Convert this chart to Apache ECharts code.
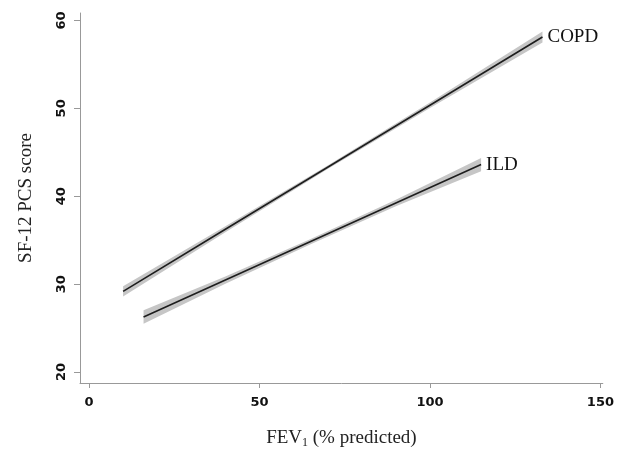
<!DOCTYPE html>
<html>
<head>
<meta charset="utf-8">
<script src="https://cdn.jsdelivr.net/npm/echarts@6/dist/echarts.min.js"></script>
<style>
html,body{margin:0;padding:0;background:#fff;}
#c{width:617px;height:455px;}
</style>
</head>
<body>
<div id="c"></div>
<script>
// ---- data ----
var xTicks = [0, 50, 100, 150];
var yTicks = [20, 30, 40, 50, 60];

var copdX   = [10, 40, 70, 100, 133];
var copdFit = [29.18, 36.24, 43.3, 50.36, 58.12];
var copdLo  = [28.6, 35.9, 43.1, 50.05, 57.5];
var copdHi  = [29.76, 36.58, 43.5, 50.67, 58.74];

var ildX    = [16, 40, 65, 90, 115];
var ildFit  = [26.26, 30.46, 34.84, 39.22, 43.6];
var ildLo   = [25.5, 30.05, 34.55, 38.85, 42.85];
var ildHi   = [27.02, 30.87, 35.13, 39.59, 44.35];

var seriesNames = ['COPD', 'ILD'];

function pairs(xs, ys){ return xs.map(function(x,i){ return [x, ys[i]]; }); }
function bandRows(xs, lo, hi){ return xs.map(function(x,i){ return [x, lo[i], hi[i]]; }); }

function bandSeries(xs, lo, hi){
  return {
    type: 'custom',
    silent: true,
    z: 1,
    data: bandRows(xs, lo, hi),
    encode: { x: 0, y: [1, 2] },
    renderItem: function(params, api){
      if (params.dataIndex !== 0) return null;
      var pts = [];
      for (var i = 0; i < xs.length; i++) pts.push(api.coord([xs[i], hi[i]]));
      for (var j = xs.length - 1; j >= 0; j--) pts.push(api.coord([xs[j], lo[j]]));
      return { type: 'polygon', shape: { points: pts }, style: { fill: '#c6c6c6' } };
    }
  };
}

var serif = '"Liberation Serif", "Times New Roman", serif';
var sansB = '"DejaVu Sans", "Liberation Sans", Arial, sans-serif';

function lineSeries(name, xs, ys){
  return {
    name: name,
    type: 'line',
    z: 3,
    data: pairs(xs, ys),
    symbol: 'none',
    silent: true,
    lineStyle: { color: '#1e1e1e', width: 1.6 },
    endLabel: {
      show: true,
      formatter: name,
      fontFamily: serif,
      fontSize: 19,
      color: '#111',
      distance: 5
    }
  };
}

var chart = echarts.init(document.getElementById('c'));
chart.setOption({
  animation: false,
  backgroundColor: '#fff',
  grid: { left: 80, right: 13, top: 13, bottom: 72, containLabel: false },
  xAxis: {
    type: 'value',
    min: -2.64, max: 150.7,
    name: '{a|FEV}{s|1}{a| (% predicted)}',
    nameLocation: 'middle',
    nameGap: 45,
    nameTextStyle: {
      rich: {
        a: { fontFamily: serif, fontSize: 19, color: '#222' },
        s: { fontFamily: serif, fontSize: 12, color: '#222', padding: [9, 0, 0, 0] }
      }
    },
    axisLine: { show: true, onZero: false, lineStyle: { color: '#999', width: 1 } },
    axisTick: { show: true, customValues: xTicks, length: 5, lineStyle: { color: '#999' } },
    axisLabel: {
      customValues: xTicks,
      margin: 13,
      fontFamily: sansB,
      fontWeight: 'bold', fontSize: 13, color: '#111'
    },
    splitLine: { show: false }
  },
  yAxis: {
    type: 'value',
    min: 18.75, max: 60.85,
    name: 'SF-12 PCS score',
    nameLocation: 'middle',
    nameRotate: 90,
    nameGap: 44,
    nameTextStyle: { fontFamily: serif, fontSize: 19, color: '#222' },
    axisLine: { show: true, onZero: false, lineStyle: { color: '#999', width: 1 } },
    axisTick: { show: true, customValues: yTicks, length: 6, lineStyle: { color: '#999' } },
    axisLabel: {
      customValues: yTicks,
      rotate: 90,
      margin: 12,
      fontFamily: sansB,
      fontWeight: 'bold', fontSize: 13, color: '#111'
    },
    splitLine: { show: false }
  },
  series: [
    bandSeries(copdX, copdLo, copdHi),
    bandSeries(ildX, ildLo, ildHi),
    lineSeries(seriesNames[0], copdX, copdFit),
    lineSeries(seriesNames[1], ildX, ildFit)
  ]
});
</script>
</body>
</html>
